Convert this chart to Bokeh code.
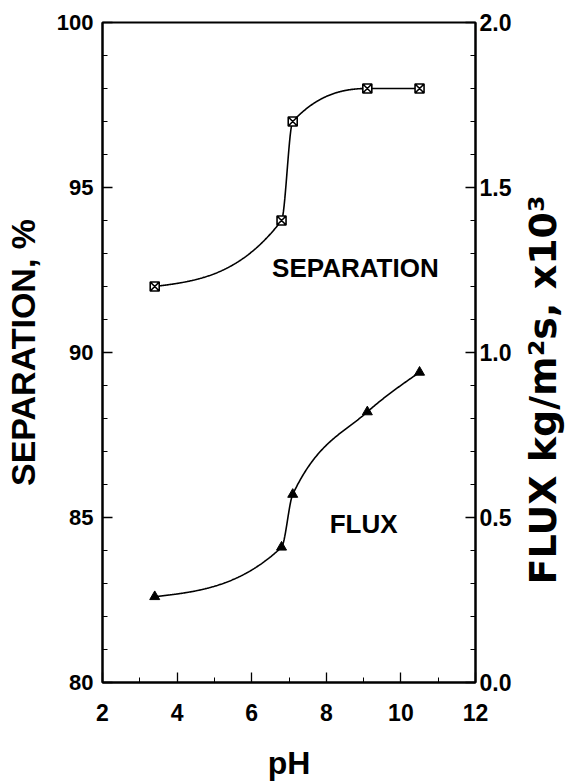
import numpy as np
from bokeh.plotting import figure
from bokeh.layouts import row
from bokeh.models import Range1d, LinearAxis, FixedTicker, Label, PrintfTickFormatter
from bokeh.embed import file_html
from bokeh.resources import INLINE

# ---- data ----
ph = [3.4, 6.8, 7.1, 9.1, 10.5]
separation = [92.0, 94.0, 97.0, 98.0, 98.0]
flux = [0.26, 0.41, 0.57, 0.82, 0.94]

x_ticks = [2, 4, 6, 8, 10, 12]
x_minor = [3, 5, 7, 9, 11]
sep_ticks = [80, 85, 90, 95, 100]
sep_minor = [81, 82, 83, 84, 86, 87, 88, 89, 91, 92, 93, 94, 96, 97, 98, 99]
flux_ticks = [0.0, 0.5, 1.0, 1.5, 2.0]
flux_minor = [0.1, 0.2, 0.3, 0.4, 0.6, 0.7, 0.8, 0.9, 1.1, 1.2, 1.3, 1.4, 1.6, 1.7, 1.8, 1.9]

FONT = "Liberation Sans"
H = 783


def smooth(x, y, xs):
    """Monotone cubic Hermite curve through the points (natural, clipped ends)."""
    x = np.asarray(x, float)
    y = np.asarray(y, float)
    h = np.diff(x)
    d = np.diff(y) / h
    n = len(x)
    m = np.zeros(n)
    for k in range(1, n - 1):
        if d[k - 1] * d[k] > 0:
            w1 = 2 * h[k] + h[k - 1]
            w2 = h[k] + 2 * h[k - 1]
            m[k] = (w1 + w2) / (w1 / d[k - 1] + w2 / d[k])
    m[0] = max(0.0, (3 * d[0] - m[1]) / 2)
    m[-1] = max(0.0, (3 * d[-1] - m[-2]) / 2)
    out = []
    for xv in xs:
        k = min(max(np.searchsorted(x, xv) - 1, 0), n - 2)
        t = (xv - x[k]) / h[k]
        h00 = 2 * t**3 - 3 * t**2 + 1
        h10 = t**3 - 2 * t**2 + t
        h01 = -2 * t**3 + 3 * t**2
        h11 = t**3 - t**2
        out.append(h00 * y[k] + h10 * h[k] * m[k] + h01 * y[k + 1] + h11 * h[k] * m[k + 1])
    return np.array(out)


P_W = 514
p = figure(width=P_W, height=H, output_backend="svg", toolbar_location=None,
           x_range=Range1d(2, 12), y_range=Range1d(80, 100),
           min_border_left=96, min_border_right=39, min_border_top=22, min_border_bottom=100)
p.extra_y_ranges = {"flux": Range1d(0, 2)}
p.xgrid.visible = False
p.ygrid.visible = False
p.outline_line_color = "black"
p.outline_line_width = 2
p.background_fill_color = "white"
p.border_fill_color = "white"

xs = np.linspace(ph[0], ph[-1], 400)
p.line(xs, smooth(ph, separation, xs), line_color="black", line_width=1.6)
p.line(xs, smooth(ph, flux, xs), line_color="black", line_width=1.6, y_range_name="flux")
p.scatter(ph, separation, marker="square_x", size=9, fill_color="white",
          line_color="black", line_width=1.6)
p.scatter(ph, flux, marker="triangle", size=10, fill_color="black",
          line_color="black", y_range_name="flux")

right = LinearAxis(y_range_name="flux")
p.add_layout(right, "right")


def style(ax, ticks, minor, size):
    ax.ticker = FixedTicker(ticks=ticks, minor_ticks=minor)
    ax.axis_line_width = 2
    ax.axis_line_color = "black"
    ax.major_tick_in = 10
    ax.major_tick_out = 0
    ax.minor_tick_in = 5
    ax.minor_tick_out = 0
    ax.major_tick_line_width = 1.3
    ax.minor_tick_line_width = 1
    ax.major_label_text_font = FONT
    ax.major_label_text_font_style = "bold"
    ax.major_label_text_font_size = size
    ax.major_label_text_color = "black"
    ax.major_label_text_line_height = 1.0
    ax.axis_label_text_font = FONT
    ax.axis_label_text_font_style = "bold"
    ax.axis_label_text_color = "black"
    ax.axis_label_text_line_height = 1.0


xa = p.xaxis[0]
style(xa, x_ticks, x_minor, "23px")
xa.major_label_standoff = 21
xa.axis_label = "pH"
xa.axis_label_text_font_size = "32px"
xa.axis_label_text_line_height = 0.85
xa.axis_label_standoff = 21

ya = p.yaxis[0]
style(ya, sep_ticks, sep_minor, "22px")
ya.axis_label = "SEPARATION, %"
ya.axis_label_text_font_size = "34px"
ya.major_label_standoff = 9
ya.axis_label_standoff = 12

style(right, flux_ticks, flux_minor, "23px")
right.formatter = PrintfTickFormatter(format="%.1f")
right.major_label_standoff = 4
right.axis_label = None
right.axis_label_standoff = 0
right.axis_label_text_font_size = "0px"

lab_sep = Label(x=8.78, y=92.55, text="SEPARATION", text_font=FONT, text_font_style="bold",
                text_font_size="26px", text_align="center", text_baseline="middle",
                text_color="black")
lab_flux = Label(x=9.0, y=0.48, y_range_name="flux", text="FLUX", text_font=FONT,
                 text_font_style="bold", text_font_size="26px", text_align="center",
                 text_baseline="middle", text_color="black")
p.add_layout(lab_sep)
p.add_layout(lab_flux)

# right-hand axis title (reads bottom to top), in a narrow strip beside the plot
strip_w = 566 - P_W
t = figure(width=strip_w, height=H, output_backend="svg", toolbar_location=None,
           x_range=Range1d(0, strip_w), y_range=Range1d(H, 0),
           min_border=0, outline_line_color=None)
t.axis.visible = False
t.grid.visible = False
t.background_fill_color = "white"
t.border_fill_color = "white"
t.add_layout(Label(x=28, y=428, text="FLUX  kg/m\u00b2s, x10\u00b3",
                   text_font="DejaVu Sans", text_font_style="bold", text_font_size="38px",
                   text_align="center", text_baseline="middle", angle=np.pi / 2,
                   text_color="black"))

layout = row(p, t, spacing=0)
open("out.html", "w").write(file_html(layout, INLINE))
